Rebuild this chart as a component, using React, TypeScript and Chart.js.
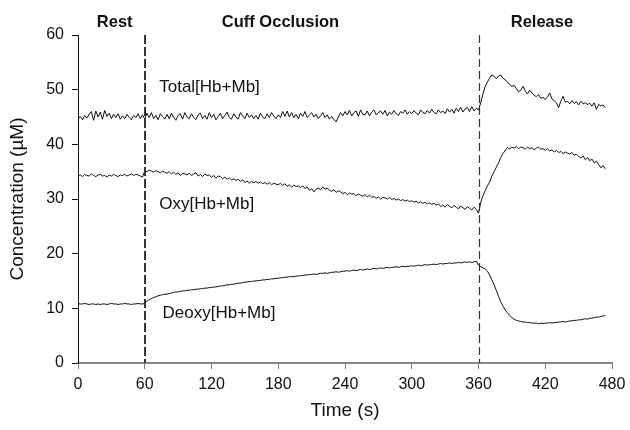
import React, { useEffect, useRef } from "react";
import { Chart, registerables } from "chart.js";

Chart.register(...registerables);

const sampleStepSec = 2;

const totalHbMb = [
  44.6,45.1,44.5,45.3,44.8,45.5,46.0,44.4,46.1,45.0,
  45.9,44.6,46.2,45.1,45.7,44.7,45.5,44.9,45.6,44.6,
  45.2,44.7,45.5,44.9,44.5,45.3,44.9,45.6,44.7,45.4,
  44.6,45.7,44.9,45.8,44.7,45.3,44.5,45.6,45.1,44.6,
  45.5,44.7,45.7,44.9,44.4,45.3,45.6,44.6,45.8,45.0,
  44.7,45.6,44.9,44.5,45.4,45.7,44.7,45.3,44.6,45.8,
  44.9,45.5,44.5,45.1,45.7,44.7,45.3,45.9,44.9,44.6,
  45.6,45.0,44.6,45.8,45.2,44.7,45.7,44.9,45.4,44.7,
  45.3,44.6,45.7,45.0,44.7,45.6,44.9,45.8,45.2,44.7,
  45.4,44.9,46.0,45.1,46.1,45.0,45.8,44.9,45.5,44.7,
  45.7,45.1,46.0,44.9,45.4,45.8,45.0,45.5,44.7,45.2,
  45.8,44.9,45.4,44.6,45.1,44.5,44.1,45.0,45.8,45.2,
  46.0,45.4,46.2,45.2,45.8,46.1,45.1,46.3,45.5,45.4,
  46.1,45.2,45.9,46.3,45.4,45.8,46.1,45.5,46.2,45.2,
  45.9,45.5,46.2,45.6,45.3,46.0,45.7,46.3,45.5,46.0,
  45.6,46.2,45.7,45.4,46.3,45.8,45.6,46.2,45.7,46.4,
  45.8,45.6,46.3,45.8,46.1,45.6,46.5,45.9,46.4,45.7,
  46.6,46.0,46.8,45.9,46.5,46.7,46.0,46.9,46.1,46.6,
  46.3,47.6,49.2,50.6,51.4,52.1,52.7,52.4,52.0,52.5,
  52.7,52.1,51.8,51.4,50.9,50.6,50.8,50.2,49.6,49.9,
  50.6,49.8,49.2,49.9,49.4,49.0,48.7,49.1,48.4,48.6,
  48.2,48.7,49.4,48.3,48.0,47.6,46.7,47.9,48.8,47.7,
  47.9,47.4,48.0,47.5,47.8,47.2,47.9,47.4,47.6,47.3,
  47.5,47.0,47.6,46.4,47.3,47.0,47.2,46.7,
];

const oxyHbMb = [
  34.2,34.4,34.1,34.5,34.3,34.2,34.6,34.3,34.1,34.4,
  34.5,34.2,34.3,34.0,34.4,34.2,34.5,34.3,34.1,34.4,
  34.3,34.5,34.2,34.4,34.6,34.3,34.5,34.4,34.2,34.0,
  35.2,35.0,35.3,35.1,34.9,35.2,35.0,34.8,35.1,34.9,
  34.7,35.0,34.6,34.9,34.5,34.8,34.3,34.7,34.6,34.4,
  34.7,34.3,34.6,34.8,34.2,34.5,34.1,34.6,34.3,34.4,
  34.0,34.3,33.8,34.2,34.1,33.7,34.0,33.6,33.9,33.5,
  33.7,33.4,33.6,33.2,33.5,33.0,33.3,32.9,33.2,33.0,
  33.2,32.9,33.1,32.8,33.0,32.7,33.0,32.6,32.9,32.7,
  32.6,32.9,32.5,32.8,32.3,32.6,32.2,32.5,32.3,32.4,
  32.1,32.4,31.9,32.2,31.6,31.9,31.3,31.8,32.0,31.7,
  32.2,31.8,32.0,31.6,31.4,31.7,31.2,31.5,31.3,31.0,
  31.2,30.8,31.1,30.9,31.0,30.6,30.9,30.7,30.5,30.8,
  30.4,30.7,30.3,30.5,30.1,30.4,30.0,30.3,30.2,30.0,
  30.3,29.9,30.1,29.8,30.0,29.7,29.9,29.6,29.8,29.5,
  29.7,29.4,29.6,29.3,29.5,29.2,29.4,29.1,29.3,29.0,
  29.2,28.9,29.1,28.6,28.9,28.5,29.0,28.7,28.4,28.8,
  28.5,28.2,28.7,28.4,28.1,28.6,28.3,28.0,28.5,28.1,
  27.4,29.4,30.6,31.5,32.4,33.1,34.2,35.0,35.8,36.6,
  37.6,38.3,38.9,39.4,39.2,39.5,39.3,39.6,39.2,39.5,
  39.4,39.1,39.5,39.2,39.4,39.0,39.3,39.5,39.1,39.2,
  38.9,39.2,38.8,39.0,38.6,38.9,38.5,38.7,38.3,38.6,
  38.4,38.2,38.5,38.0,38.2,37.8,37.5,37.9,37.2,37.6,
  37.0,37.3,36.6,36.9,36.3,35.7,36.1,35.5,
];

const deoxyHbMb = [
  10.9,10.8,10.8,10.9,10.8,10.7,10.8,10.8,10.7,10.8,
  10.7,10.8,10.8,10.7,10.8,10.9,10.8,10.8,10.7,10.8,
  10.8,10.9,10.8,10.8,10.7,10.8,10.8,10.9,10.8,10.8,
  10.9,11.3,11.6,11.8,12.0,12.1,12.3,12.4,12.5,12.6,
  12.6,12.7,12.8,12.9,13.0,13.0,13.1,13.2,13.2,13.3,
  13.3,13.4,13.4,13.5,13.5,13.6,13.6,13.7,13.7,13.8,
  13.8,13.9,13.9,14.0,14.1,14.1,14.2,14.3,14.3,14.4,
  14.4,14.5,14.6,14.6,14.7,14.8,14.8,14.9,14.9,15.0,
  15.0,15.1,15.1,15.2,15.2,15.3,15.3,15.4,15.4,15.5,
  15.5,15.6,15.6,15.7,15.7,15.8,15.8,15.8,15.9,15.9,
  16.0,16.0,16.1,16.1,16.2,16.2,16.3,16.2,16.3,16.4,
  16.4,16.5,16.4,16.5,16.6,16.6,16.7,16.6,16.7,16.8,
  16.8,16.9,16.8,16.9,17.0,16.9,17.0,17.1,17.0,17.1,
  17.2,17.1,17.2,17.3,17.2,17.3,17.4,17.3,17.4,17.5,
  17.4,17.5,17.5,17.6,17.5,17.6,17.7,17.6,17.7,17.7,
  17.8,17.7,17.8,17.9,17.8,17.9,18.0,17.9,18.0,18.0,
  18.1,18.0,18.1,18.2,18.1,18.2,18.2,18.3,18.2,18.3,
  18.3,18.4,18.3,18.4,18.5,18.4,18.5,18.4,18.5,18.6,
  17.9,17.6,17.4,17.2,16.8,16.1,15.2,14.3,13.3,12.2,
  11.2,10.4,9.7,9.2,8.7,8.3,8.0,7.8,7.7,7.6,
  7.5,7.5,7.4,7.4,7.3,7.3,7.3,7.2,7.3,7.2,
  7.3,7.3,7.4,7.3,7.4,7.4,7.5,7.5,7.6,7.5,
  7.6,7.7,7.7,7.8,7.8,7.9,7.9,8.0,8.1,8.0,
  8.2,8.2,8.3,8.4,8.4,8.5,8.6,8.7,
];

const phaseBoundaries = [60, 360];
const phaseLabels = ["Rest", "Cuff Occlusion", "Release"];
const phaseLabelCenters = [33, 182, 417];
const seriesLabels = ["Total[Hb+Mb]", "Oxy[Hb+Mb]", "Deoxy[Hb+Mb]"];
const seriesLabelAnchors = [
  { x: 73, y: 50.5 },
  { x: 73, y: 29.1 },
  { x: 76, y: 9.1 },
];
const xTitle = "Time (s)";
const yTitle = "Concentration (\u00b5M)";

const FONT = "'Liberation Sans', Arial, Helvetica, sans-serif";

function toPoints(vals: number[]) {
  return vals.map((v, i) => ({ x: i * sampleStepSec, y: v }));
}

const annotationPlugin = {
  id: "annotations",
  afterDatasetsDraw(chart: any) {
    const { ctx, chartArea, scales } = chart;
    const xs = scales.x;
    const ys = scales.y;
    ctx.save();
    phaseBoundaries.forEach((b, i) => {
      const px = Math.round(xs.getPixelForValue(b)) + (i === 0 ? 0 : 0.5);
      ctx.beginPath();
      ctx.setLineDash(i === 0 ? [9, 3] : [8, 4]);
      ctx.lineWidth = i === 0 ? 2 : 1.2;
      ctx.strokeStyle = "#333";
      ctx.moveTo(px, chartArea.top);
      ctx.lineTo(px, chartArea.bottom);
      ctx.stroke();
    });
    ctx.setLineDash([]);
    ctx.fillStyle = "#111";
    ctx.font = `bold 16.5px ${FONT}`;
    ctx.textAlign = "center";
    ctx.textBaseline = "middle";
    phaseLabels.forEach((t, i) => {
      ctx.fillText(t, xs.getPixelForValue(phaseLabelCenters[i]), chartArea.top - 13);
    });
    ctx.font = `17px ${FONT}`;
    ctx.textAlign = "left";
    seriesLabels.forEach((t, i) => {
      const a = seriesLabelAnchors[i];
      ctx.fillText(t, xs.getPixelForValue(a.x), ys.getPixelForValue(a.y));
    });
    ctx.font = `19px ${FONT}`;
    ctx.textAlign = "center";
    ctx.fillText(xTitle, (chartArea.left + chartArea.right) / 2, 411);
    ctx.translate(18, (chartArea.top + chartArea.bottom) / 2);
    ctx.rotate(-Math.PI / 2);
    ctx.fillText(yTitle, 0, 0);
    ctx.restore();
  },
};

export default function App() {
  const ref = useRef<HTMLCanvasElement | null>(null);
  useEffect(() => {
    if (!ref.current) return;
    const lineDs = (label: string, vals: number[]) => ({
      label,
      data: toPoints(vals),
      borderColor: "#111",
      borderWidth: 1,
      pointRadius: 0,
      tension: 0,
      fill: false,
    });
    const chart = new Chart(ref.current, {
      type: "line",
      data: {
        datasets: [
          lineDs(seriesLabels[0], totalHbMb),
          lineDs(seriesLabels[1], oxyHbMb),
          lineDs(seriesLabels[2], deoxyHbMb),
        ],
      },
      options: {
        animation: false,
        responsive: false,
        layout: { padding: { top: 35, right: 18, left: 0, bottom: 0 } },
        plugins: { legend: { display: false }, tooltip: { enabled: false } },
        scales: {
          x: {
            type: "linear",
            min: 0,
            max: 480,
            ticks: { stepSize: 60, color: "#111", font: { family: FONT, size: 16 }, padding: 6, maxRotation: 0 },
            grid: { drawOnChartArea: false, drawTicks: true, tickLength: 6, color: "#777", lineWidth: 1 },
            border: { color: "#888", width: 2 },
            afterFit: (s: any) => {
              s.height = 67;
              s.paddingLeft = 0;
              s.paddingRight = 0;
            },
          },
          y: {
            min: 0,
            max: 60,
            ticks: { stepSize: 10, color: "#111", font: { family: FONT, size: 16 }, padding: 8 },
            grid: { drawOnChartArea: false, drawTicks: true, tickLength: 6, color: "#111", lineWidth: 1 },
            border: { color: "#111", width: 1 },
            afterFit: (s: any) => {
              s.width = 78;
              s.paddingTop = 0;
              s.paddingBottom = 0;
            },
          },
        },
      },
      plugins: [annotationPlugin],
    });
    return () => chart.destroy();
  }, []);
  return (
    <div style={{ position: "absolute", left: 0, top: 0, width: 630, height: 430, background: "#fff" }}>
      <canvas ref={ref} width={630} height={430} />
    </div>
  );
}
